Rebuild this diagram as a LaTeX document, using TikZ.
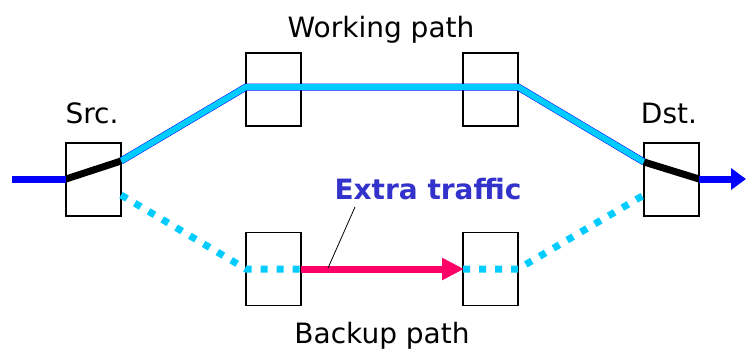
\documentclass[tikz,border=0pt]{standalone}
\usepackage{fontspec}
\setmainfont{DejaVu Sans}
\usetikzlibrary{arrows.meta}
\definecolor{linkcyan}{HTML}{00CCFF}
\definecolor{linkblue}{HTML}{0000FF}
\definecolor{xtrared}{HTML}{FF0066}
\definecolor{labelblue}{HTML}{3333CC}
\tikzset{
  nodebox/.style={draw=black, line width=1.9pt, fill=white, minimum width=55pt, minimum height=73pt, inner sep=0pt},
  lbl/.style={font=\fontsize{28}{28}\selectfont, inner sep=0pt, anchor=base},
  working/.style={linkcyan, line width=6pt, line join=miter},
  workedge/.style={linkblue, line width=7pt, line join=miter},
  backup/.style={linkcyan, line width=7pt, dash pattern=on 7pt off 9pt},
  inner/.style={black, line width=7pt},
  feed/.style={linkblue, line width=7pt},
}
\begin{document}
\begin{tikzpicture}[x=1pt,y=-1pt]
\useasboundingbox (0,0) rectangle (746,349);

% switching nodes
\node[nodebox] (src) at (93.5,179.5) {};
\node[nodebox] (dst) at (671.5,179.5) {};
\node[nodebox] (w1) at (273.5,89.5) {};
\node[nodebox] (w2) at (490.5,89.5) {};
\node[nodebox] (b1) at (273.5,269) {};
\node[nodebox] (b2) at (490.5,269) {};

% attachment points
\coordinate (srcIn) at (66,179);
\coordinate (srcUp) at (121,161);
\coordinate (srcDn) at (121,195);
\coordinate (dstUp) at (644,162);
\coordinate (dstDn) at (644,195);
\coordinate (dstOut) at (699,179);
\coordinate (w1L) at (246,87);
\coordinate (w2R) at (518,87);
\coordinate (b1L) at (246,269);
\coordinate (b1R) at (301,269);
\coordinate (b2L) at (463,269);
\coordinate (b2R) at (518,269);
\coordinate (inStart) at (12,179);
\coordinate (outEnd) at (746,179);

% working path
\draw[workedge] (srcUp) -- (w1L) -- (w2R) -- (dstUp);
\draw[working, yshift=-1pt] (srcUp) -- (w1L) -- (w2R) -- (dstUp);

% backup path
\draw[backup] (srcDn) -- (b1L) -- (b1R);
\draw[backup] (b2L) -- (b2R) -- (dstDn);

% extra traffic on the backup path
\draw[xtrared, line width=7pt, -{Triangle[length=22pt,width=21pt]}, shorten >=-1pt] (b1R) -- (b2L);

% switch settings at the end nodes
\draw[inner] (srcIn) -- (srcUp);
\draw[inner] (dstUp) -- (dstOut);

% traffic in and out
\draw[feed] (inStart) -- (srcIn);
\draw[feed, -{Triangle[length=15pt,width=21pt]}] (dstOut) -- (outEnd);

% labels
\node[lbl] (wl) at (381,37) {Working path};
\node[lbl] (bl) at (382,343) {Backup path};
\node[lbl] (sl) at (92,123) {Src.};
\node[lbl] (dl) at (669,123) {Dst.};
\node[lbl, font=\fontsize{28}{28}\selectfont\bfseries, text=labelblue] (xl) at (428,199) {Extra traffic};
\coordinate (leadTop) at (355,207);
\coordinate (leadEnd) at (328,268);
\draw[black, line width=0.8pt] (leadTop) -- (leadEnd);
\end{tikzpicture}
\end{document}
